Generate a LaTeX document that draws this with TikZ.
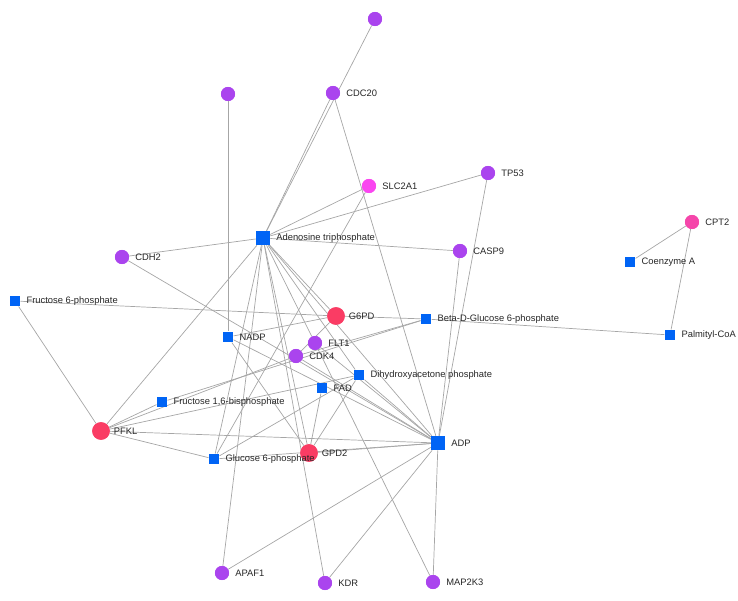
\documentclass[tikz,border=0pt]{standalone}
\usepackage{fontspec}
\setmainfont{Liberation Sans}
\definecolor{gene}{RGB}{170,68,238}
\definecolor{hub}{RGB}{250,60,100}
\definecolor{pinkg}{RGB}{245,70,170}
\definecolor{magg}{RGB}{250,70,240}
\definecolor{met}{RGB}{0,100,245}
\tikzset{
 gene/.style={circle,fill=gene,inner sep=0pt,minimum size=12pt},
 hub/.style={circle,fill=hub,inner sep=0pt,minimum size=15pt},
 met/.style={rectangle,fill=met,inner sep=0pt,minimum size=9pt},
 bigmet/.style={rectangle,fill=met,inner sep=0pt,minimum size=12pt},
 lbl/.style={font=\fontsize{8}{9}\selectfont,text=black!85,anchor=west,inner sep=2pt},
 edge/.style={draw=black!35,line width=0.6pt}
}
\begin{document}
\begin{tikzpicture}[x=0.03cm,y=-0.03cm]
\useasboundingbox (0,0) rectangle (738,601);

% genes
\node[gene] (top) at (375,19) {};
\node[gene] (u2) at (228,94) {};
\node[gene] (cdc) at (333,93) {};
\node[gene,fill=magg] (slc) at (369,186) {};
\node[gene] (tp) at (488,173) {};
\node[gene] (cdh) at (122,257) {};
\node[gene] (casp) at (460,251) {};
\node[gene,fill=pinkg] (cpt) at (692,222) {};
\node[gene] (flt) at (315,343) {};
\node[gene] (cdk) at (296,356) {};
\node[gene] (apaf) at (222,573) {};
\node[gene] (kdr) at (325,583) {};
\node[gene] (map) at (433,582) {};
\node[hub] (gpd) at (336,316) {};
\node[hub] (pfkl) at (101,431) {};
\node[hub] (gpdtwo) at (309,453) {};

% metabolites
\node[bigmet] (atp) at (263,238) {};
\node[met] (coa) at (630,262) {};
\node[met] (fsp) at (15,301) {};
\node[met] (bdg) at (426,319) {};
\node[met] (pal) at (670,335) {};
\node[met] (nadp) at (228,337) {};
\node[met] (dhap) at (359,375) {};
\node[met] (fad) at (322,388) {};
\node[met] (fbp) at (162,402) {};
\node[bigmet] (adp) at (438,443) {};
\node[met] (gsp) at (214,459) {};

% edges
\begin{scope}[on background layer/.style={}]
\foreach \a/\b in {top/atp,cdc/atp,cdc/adp,u2/nadp,slc/atp,slc/gsp,tp/atp,tp/adp,
  cdh/atp,cdh/adp,atp/casp,casp/adp,cpt/coa,cpt/pal,fsp/gpd,fsp/pfkl,gpd/bdg,bdg/pal,
  nadp/gpd,nadp/gpdtwo,nadp/adp,gpd/cdk,bdg/cdk,cdk/pfkl,cdk/adp,flt/map,flt/adp,
  atp/gpdtwo,atp/adp,atp/kdr,atp/apaf,atp/flt,atp/gpd,atp/gsp,atp/pfkl,atp/dhap,
  pfkl/fbp,pfkl/dhap,pfkl/adp,pfkl/gsp,fbp/bdg,gsp/dhap,dhap/gpdtwo,dhap/adp,
  fad/gpdtwo,gpdtwo/adp,adp/apaf,adp/kdr,adp/map,adp/gsp}
  \draw[edge] (\a) -- (\b);
\end{scope}

% redraw nodes over edges
\foreach \n in {top,u2,cdc,tp,cdh,casp,flt,cdk,apaf,kdr,map}
  \node[gene] at (\n) {};
\node[gene,fill=magg] at (slc) {};
\node[gene,fill=pinkg] at (cpt) {};
\foreach \n in {gpd,pfkl,gpdtwo} \node[hub] at (\n) {};
\foreach \n in {coa,fsp,bdg,pal,nadp,dhap,fad,fbp,gsp} \node[met] at (\n) {};
\foreach \n in {atp,adp} \node[bigmet] at (\n) {};

% labels
\node[lbl] at ([xshift=3pt]cdc.east) {CDC20};
\node[lbl] at ([xshift=3pt]slc.east) {SLC2A1};
\node[lbl] at ([xshift=3pt]tp.east) {TP53};
\node[lbl] at ([xshift=3pt]cdh.east) {CDH2};
\node[lbl] at ([xshift=3pt]casp.east) {CASP9};
\node[lbl] at ([xshift=3pt]cpt.east) {CPT2};
\node[lbl] at ([xshift=3pt]flt.east) {FLT1};
\node[lbl] at ([xshift=3pt]cdk.east) {CDK4};
\node[lbl] at ([xshift=3pt]apaf.east) {APAF1};
\node[lbl] at ([xshift=3pt]kdr.east) {KDR};
\node[lbl] at ([xshift=3pt]map.east) {MAP2K3};
\node[lbl] at ([xshift=1pt]gpd.east) {G6PD};
\node[lbl] at ([xshift=1pt]pfkl.east) {PFKL};
\node[lbl] at ([xshift=1pt]gpdtwo.east) {GPD2};
\node[lbl] at ([xshift=3pt]atp.east) {Adenosine triphosphate};
\node[lbl] at ([xshift=3pt]coa.east) {Coenzyme A};
\node[lbl] at ([xshift=3pt]fsp.east) {Fructose 6-phosphate};
\node[lbl] at ([xshift=3pt]bdg.east) {Beta-D-Glucose 6-phosphate};
\node[lbl] at ([xshift=3pt]pal.east) {Palmityl-CoA};
\node[lbl] at ([xshift=3pt]nadp.east) {NADP};
\node[lbl] at ([xshift=3pt]dhap.east) {Dihydroxyacetone phosphate};
\node[lbl] at ([xshift=3pt]fad.east) {FAD};
\node[lbl] at ([xshift=3pt]fbp.east) {Fructose 1,6-bisphosphate};
\node[lbl] at ([xshift=3pt]adp.east) {ADP};
\node[lbl] at ([xshift=3pt]gsp.east) {Glucose 6-phosphate};
\end{tikzpicture}
\end{document}
